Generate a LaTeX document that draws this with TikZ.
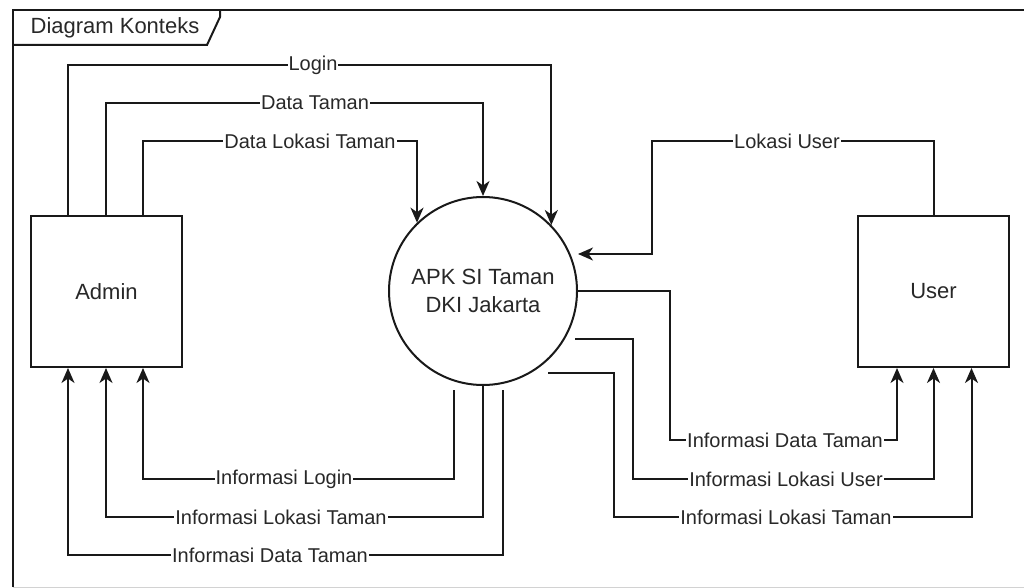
\documentclass[tikz,border=0pt]{standalone}
\usepackage{fontspec}
\setmainfont{Liberation Sans}
\usetikzlibrary{arrows.meta,calc}
\definecolor{ink}{RGB}{25,25,25}
\definecolor{txt}{RGB}{40,40,40}
\tikzset{
  entity/.style={draw=ink, line width=2pt, fill=white, minimum width=151pt, minimum height=151pt,
                 inner sep=0pt, font=\fontsize{22}{28}\selectfont, text=txt},
  process/.style={draw=ink, line width=2pt, fill=white, circle, minimum size=188pt, inner sep=0pt,
                  align=center, font=\fontsize{22}{28}\selectfont, text=txt},
  flow/.style={draw=ink, line width=2pt, -{Stealth[length=15pt,width=13pt,inset=4.5pt]}},
  flowlabel/.style={fill=white, inner sep=1pt, font=\fontsize{20}{24}\selectfont, text=txt},
  frameline/.style={draw=ink, line width=2pt},
}
\begin{document}
\begin{tikzpicture}[x=1pt,y=-1pt]
\useasboundingbox (0,0) rectangle (1024,588);

% outer frame with title tab
\draw[gray!35, line width=1pt] (13,587) -- (1024,587);
\draw[frameline] (13,587) -- (13,10) -- (1024,10);
\draw[frameline] (13,45) -- (207,45) -- (220,17) -- (220,10);
\node[font=\fontsize{22}{26}\selectfont, text=txt] (title) at (115,28) {Diagram Konteks};

% entities and the process
\node[entity] (admin) at (106.5,291.5) {Admin};
\node[entity] (user) at (933.5,291.5) {User};
\node[process] (apk) at (483,291) {APK SI Taman\\DKI Jakarta};

% flows from Admin into the system
\draw[flow] ([xshift=38pt]admin.north west) |- (apk.44.5 |- 0,65) -- (apk.44.5);
\draw[flow] ([xshift=76pt]admin.north west) |- (apk.north |- 0,103) -- (apk.north);
\draw[flow] ([xshift=113pt]admin.north west) |- (apk.134.6 |- 0,141) -- (apk.134.6);
\node[flowlabel] (lLogin) at (313,65) {Login};
\node[flowlabel] (lDataTaman) at (315,103) {Data Taman};
\node[flowlabel] (lDataLokasi) at (310,141) {Data Lokasi Taman};

% flow from User into the system
\draw[flow] (user.north) |- (652,141) |- (apk.east |- 0,254);
\node[flowlabel] (lLokasiUser) at (787,141) {Lokasi User};

% flows from the system back to Admin
\coordinate (oLogin) at ([shift={(-29,99)}]apk.center);
\coordinate (oDataTaman) at ([shift={(20,99)}]apk.center);
\draw[flow] (oLogin) |- (300,479) -| ([xshift=113pt]admin.south west);
\draw[flow] (apk.south) |- (300,517) -| ([xshift=76pt]admin.south west);
\draw[flow] (oDataTaman) |- (300,555) -| ([xshift=38pt]admin.south west);
\node[flowlabel] (lInfoLogin) at (284,479) {Informasi Login};
\node[flowlabel] (lInfoLokasiA) at (281,517) {Informasi Lokasi Taman};
\node[flowlabel] (lInfoDataA) at (270,555) {Informasi Data Taman};

% flows from the system to User
\coordinate (oLokUser) at ([shift={(92,48)}]apk.center);
\coordinate (oLokTaman) at ([shift={(65,82)}]apk.center);
\draw[flow] (apk.east) -| (670,440) -| ([xshift=-36.5pt]user.south);
\draw[flow] (oLokUser) -| (633,479) -| (user.south);
\draw[flow] (oLokTaman) -| (614,517) -| ([xshift=38pt]user.south);
\node[flowlabel] (lInfoDataU) at (785,440) {Informasi Data Taman};
\node[flowlabel] (lInfoLokUser) at (786,479) {Informasi Lokasi User};
\node[flowlabel] (lInfoLokasiU) at (786,517) {Informasi Lokasi Taman};
\end{tikzpicture}
\end{document}
